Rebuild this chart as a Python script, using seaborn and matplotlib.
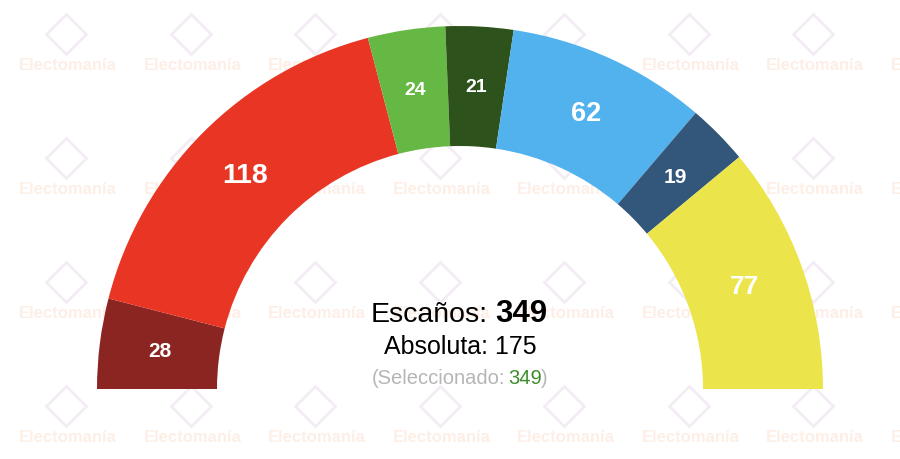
import numpy as np
import seaborn as sns
import matplotlib.pyplot as plt

sns.set_theme(style="white")
plt.rcParams['font.family'] = ['Liberation Sans', 'DejaVu Sans']

parties = ['Izq', 'PSOE', 'Verde', 'VerdeOsc', 'PP', 'Azul', 'Amarillo']
seats = [28, 118, 24, 21, 62, 19, 77]
colors = ['#8B2522', '#E93524', '#66B845', '#2E521B', '#52B2EE', '#33577A', '#EBE54B']
label_sizes = [15, 20.5, 14, 14, 19.5, 15, 19]

total = sum(seats)
majority = total // 2 + 1
selected = total

# geometry in pixel units
cx, cy = 460, 70
r_out, r_in = 363, 243

fig = plt.figure(figsize=(9, 4.6), dpi=100)
ax = fig.add_axes([0, 0, 1, 1])
ax.set_xlim(0, 900)
ax.set_ylim(0, 460)
ax.set_aspect('equal')
ax.axis('off')

# watermark grid
for wy in [394, 270, 146, 22]:
    for wx in np.arange(68, 1000, 124.5):
        ax.text(wx, wy, 'Electomanía', ha='center', va='center', fontsize=12,
                fontweight='bold', color='#FDEEE6', zorder=0)
        ax.plot(wx - 2, wy + 31, marker='D', markersize=20, markerfacecolor='none',
                markeredgecolor='#F3ECF4', markeredgewidth=2, zorder=0)

# half donut: a transparent wedge fills the bottom half
wedges, _ = ax.pie(seats + [total], colors=colors + ['none'], startangle=180,
                   counterclock=False, radius=r_out, center=(cx, cy),
                   wedgeprops=dict(width=r_out - r_in, linewidth=0))
for w in wedges:
    w.set_zorder(2)
ax.set_xlim(0, 900)
ax.set_ylim(0, 460)

r_mid = (r_out + r_in) / 2
cum = np.cumsum([0] + seats)
for i, n in enumerate(seats):
    ang = np.pi - (cum[i] + n / 2) / total * np.pi
    ax.text(cx + r_mid * np.cos(ang), cy + r_mid * np.sin(ang), str(n),
            ha='center', va='center', color='white', fontweight='bold',
            fontsize=label_sizes[i], zorder=3)

ax.text(488, 138, 'Escaños:', ha='right', va='baseline', fontsize=20.5, color='black', zorder=3)
ax.text(495, 138, str(total), ha='left', va='baseline', fontsize=22.5,
        fontweight='bold', color='black', zorder=3)
ax.text(cx, 106, f'Absoluta: {majority}', ha='center', va='baseline', fontsize=18,
        color='black', zorder=3)
ax.text(505, 76, '(Seleccionado:', ha='right', va='baseline', fontsize=14.5,
        color='#B5B5B5', zorder=3)
ax.text(508, 76, f'{selected}', ha='left', va='baseline', fontsize=14.5,
        color='#3C8C2B', zorder=3)
ax.text(541, 76, ')', ha='left', va='baseline', fontsize=14.5, color='#B5B5B5', zorder=3)

fig.savefig('out.png', dpi=100, facecolor='white')
